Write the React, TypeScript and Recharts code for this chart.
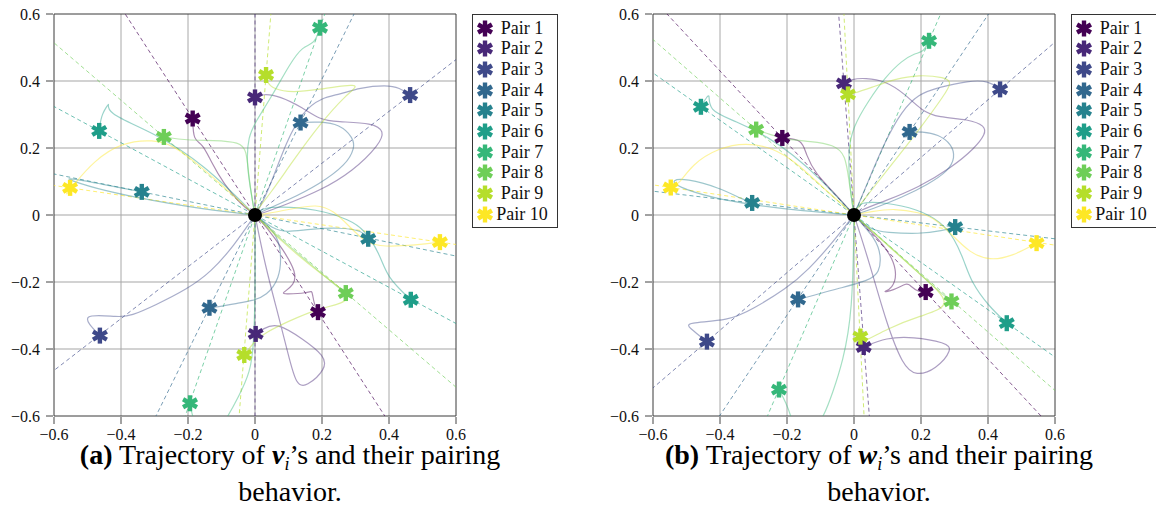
import React from 'react';
import { ComposedChart, Line, Scatter, XAxis, YAxis, CartesianGrid, ReferenceArea } from 'recharts';

type P = [number, number];

const pairNames = ['Pair 1', 'Pair 2', 'Pair 3', 'Pair 4', 'Pair 5', 'Pair 6', 'Pair 7', 'Pair 8', 'Pair 9', 'Pair 10'];
const pairColors = ['#440154', '#482878', '#3e4989', '#31688e', '#26828e', '#1f9e89', '#35b779', '#6ece58', '#b5de2b', '#fde725'];

const majorTicks = [-0.6, -0.4, -0.2, 0, 0.2, 0.4, 0.6];
const tickLabels = ['\u22120.6', '\u22120.4', '\u22120.2', '0', '0.2', '0.4', '0.6'];
const gridValues = [-0.4, -0.2, 0, 0.2, 0.4];
const minorTicks = Array.from({ length: 37 }, (_, k) => -0.6 + k / 30);

// final positions of v_i (panel a)
const vStarsA: P[] = [[-0.186, 0.288], [0, 0.351], [0.463, 0.358], [0.136, 0.276], [-0.338, 0.069], [-0.465, 0.251], [0.194, 0.559], [-0.272, 0.233], [0.033, 0.418], [-0.552, 0.081]];
const vStarsB: P[] = [[0.188, -0.29], [0.002, -0.355], [-0.463, -0.36], [-0.136, -0.277], [0.338, -0.071], [0.465, -0.253], [-0.194, -0.562], [0.271, -0.233], [-0.032, -0.418], [0.552, -0.081]];

const vTrajA: P[][] = [
  [[0, 0], [-0.043, 0.032], [-0.093, 0.092], [-0.132, 0.161], [-0.157, 0.214], [-0.184, 0.222], [-0.186, 0.288]],
  [[0, 0], [0.014, 0.002], [0.094, 0.032], [0.193, 0.072], [0.293, 0.131], [0.372, 0.211], [0.387, 0.25], [0.352, 0.275], [0.243, 0.278], [0.193, 0.285], [0.143, 0.32], [0.074, 0.355], [0.024, 0.362], [0, 0.351]],
  [[0, 0], [0.009, 0.012], [0.044, 0.082], [0.094, 0.221], [0.143, 0.31], [0.198, 0.35], [0.253, 0.36], [0.312, 0.38], [0.392, 0.388], [0.432, 0.38], [0.463, 0.358]],
  [[0, 0], [0.024, 0.012], [0.094, 0.042], [0.193, 0.092], [0.273, 0.151], [0.298, 0.201], [0.293, 0.231], [0.253, 0.271], [0.193, 0.279], [0.136, 0.276]],
  [[0, 0], [-0.152, 0.017], [-0.301, 0.042], [-0.451, 0.072], [-0.56, 0.106], [-0.56, 0.111], [-0.451, 0.091], [-0.338, 0.069]],
  [[0, 0], [-0.152, 0.151], [-0.301, 0.246], [-0.451, 0.306], [-0.429, 0.343], [-0.459, 0.302], [-0.465, 0.251]],
  [[0, 0], [-0.015, 0.084], [-0.025, 0.163], [-0.02, 0.232], [0, 0.276], [0.054, 0.36], [0.103, 0.45], [0.143, 0.505], [0.178, 0.51], [0.194, 0.559]],
  [[0, 0], [-0.005, 0.024], [-0.02, 0.124], [-0.025, 0.193], [-0.045, 0.218], [-0.124, 0.223], [-0.204, 0.223], [-0.272, 0.233]],
  [[0, 0], [0.004, 0.012], [0.044, 0.062], [0.113, 0.161], [0.193, 0.271], [0.273, 0.36], [0.312, 0.387], [0.273, 0.388], [0.193, 0.375], [0.113, 0.365], [0.054, 0.375], [0.034, 0.4], [0.033, 0.418]],
  [[0, 0], [-0.102, 0.092], [-0.182, 0.161], [-0.242, 0.206], [-0.301, 0.226], [-0.401, 0.216], [-0.481, 0.161], [-0.54, 0.092], [-0.57, 0.052], [-0.552, 0.081]],
];
const vTrajB: P[][] = [
  [[0, 0], [0.035, -0.036], [0.085, -0.105], [0.123, -0.17], [0.118, -0.21], [0.078, -0.234], [0.09, -0.236], [0.158, -0.233], [0.17, -0.225], [0.172, -0.24], [0.178, -0.27], [0.188, -0.29]],
  [[0, 0], [0.03, -0.15], [0.07, -0.3], [0.1, -0.42], [0.123, -0.509], [0.153, -0.514], [0.213, -0.459], [0.208, -0.42], [0.143, -0.37], [0.064, -0.32], [0.024, -0.34], [0.002, -0.355]],
  [[0, 0], [-0.063, -0.092], [-0.132, -0.171], [-0.202, -0.221], [-0.301, -0.271], [-0.371, -0.301], [-0.401, -0.306], [-0.53, -0.291], [-0.463, -0.36]],
  [[0, 0], [0.064, -0.052], [0.079, -0.111], [0.074, -0.191], [0.034, -0.241], [-0.006, -0.256], [-0.063, -0.265], [-0.112, -0.275], [-0.136, -0.277]],
  [[0, 0], [0.054, -0.042], [0.094, -0.052], [0.163, -0.042], [0.253, -0.037], [0.322, -0.047], [0.338, -0.071]],
  [[0, 0], [0.025, 0.029], [0.194, 0.018], [0.283, -0.016], [0.323, -0.04], [0.373, -0.115], [0.393, -0.185], [0.465, -0.253]],
  [[0, 0], [0.001, -0.2], [-0.003, -0.38], [-0.013, -0.468], [-0.052, -0.548], [-0.08, -0.6], [-0.12, -0.66], [-0.18, -0.64], [-0.194, -0.562]],
  [[0, 0], [0.08, -0.075], [0.17, -0.15], [0.24, -0.21], [0.271, -0.233]],
  [[0, 0], [0.08, -0.08], [0.2, -0.18], [0.312, -0.256], [0.193, -0.276], [0.094, -0.32], [0.034, -0.35], [0.004, -0.37], [-0.032, -0.418]],
  [[0, 0], [0.035, 0.004], [0.114, 0.019], [0.184, 0.032], [0.234, 0.014], [0.283, -0.036], [0.333, -0.085], [0.383, -0.095], [0.483, -0.09], [0.552, -0.081]],
];

// final positions of w_i (panel b)
const wStarsA: P[] = [[-0.214, 0.23], [-0.03, 0.393], [0.436, 0.375], [0.166, 0.248], [-0.304, 0.036], [-0.457, 0.323], [0.224, 0.52], [-0.292, 0.255], [-0.018, 0.36], [-0.547, 0.082]];
const wStarsB: P[] = [[0.214, -0.23], [0.029, -0.394], [-0.439, -0.378], [-0.167, -0.252], [0.302, -0.036], [0.456, -0.323], [-0.224, -0.521], [0.291, -0.258], [0.019, -0.363], [0.545, -0.084]];

const wTrajA: P[][] = [
  [[0, 0], [-0.064, 0.072], [-0.114, 0.122], [-0.144, 0.181], [-0.154, 0.226], [-0.214, 0.23]],
  [[0, 0], [0.013, 0.012], [0.093, 0.042], [0.192, 0.082], [0.292, 0.142], [0.362, 0.201], [0.392, 0.241], [0.392, 0.266], [0.342, 0.286], [0.252, 0.291], [0.202, 0.311], [0.153, 0.361], [0.093, 0.401], [0.033, 0.409], [-0.007, 0.406], [-0.03, 0.393]],
  [[0, 0], [0.043, 0.102], [0.093, 0.221], [0.143, 0.311], [0.192, 0.361], [0.252, 0.381], [0.342, 0.401], [0.402, 0.401], [0.436, 0.375]],
  [[0, 0], [0.053, 0.017], [0.143, 0.052], [0.222, 0.092], [0.282, 0.132], [0.302, 0.171], [0.292, 0.211], [0.252, 0.241], [0.202, 0.249], [0.166, 0.248]],
  [[0, 0], [-0.154, 0.012], [-0.3, 0.03], [-0.42, 0.05], [-0.53, 0.085], [-0.545, 0.105], [-0.502, 0.109], [-0.403, 0.082], [-0.333, 0.047], [-0.304, 0.036]],
  [[0, 0], [-0.104, 0.112], [-0.183, 0.181], [-0.253, 0.231], [-0.353, 0.281], [-0.438, 0.311], [-0.428, 0.371], [-0.45, 0.335], [-0.457, 0.323]],
  [[0, 0], [-0.013, 0.084], [-0.018, 0.193], [-0.003, 0.263], [0.043, 0.341], [0.093, 0.411], [0.143, 0.461], [0.182, 0.483], [0.207, 0.486], [0.224, 0.52]],
  [[0, 0], [-0.015, 0.1], [-0.025, 0.18], [-0.06, 0.21], [-0.13, 0.22], [-0.2, 0.225], [-0.25, 0.24], [-0.292, 0.255]],
  [[0, 0], [0.003, 0.012], [0.043, 0.062], [0.113, 0.152], [0.192, 0.251], [0.272, 0.361], [0.292, 0.396], [0.272, 0.411], [0.192, 0.419], [0.123, 0.406], [0.053, 0.381], [-0.007, 0.361], [-0.018, 0.36]],
  [[0, 0], [-0.104, 0.092], [-0.173, 0.157], [-0.243, 0.201], [-0.323, 0.216], [-0.403, 0.201], [-0.483, 0.152], [-0.522, 0.092], [-0.547, 0.082]],
];
const wTrajB: P[][] = [
  [[0, 0], [0.096, -0.092], [0.131, -0.166], [0.116, -0.221], [0.081, -0.231], [0.116, -0.226], [0.161, -0.201], [0.166, -0.211], [0.195, -0.231], [0.214, -0.23]],
  [[0, 0], [0.046, -0.142], [0.096, -0.321], [0.146, -0.451], [0.185, -0.481], [0.245, -0.461], [0.295, -0.401], [0.275, -0.381], [0.175, -0.363], [0.096, -0.366], [0.029, -0.394]],
  [[0, 0], [-0.064, -0.082], [-0.134, -0.162], [-0.203, -0.221], [-0.303, -0.281], [-0.373, -0.316], [-0.502, -0.321], [-0.493, -0.336], [-0.439, -0.378]],
  [[0, 0], [0.066, -0.072], [0.081, -0.122], [0.076, -0.171], [0.046, -0.196], [-0.054, -0.221], [-0.124, -0.241], [-0.167, -0.252]],
  [[0, 0], [0.05, -0.045], [0.096, -0.052], [0.195, -0.057], [0.265, -0.047], [0.302, -0.036]],
  [[0, 0], [0.01, 0.04], [0.09, 0.038], [0.19, 0.018], [0.26, -0.02], [0.3, -0.07], [0.33, -0.14], [0.35, -0.2], [0.4, -0.27], [0.456, -0.323]],
  [[0, 0], [-0.004, -0.291], [-0.034, -0.441], [-0.064, -0.531], [-0.089, -0.6], [-0.13, -0.66], [-0.18, -0.64], [-0.188, -0.6], [-0.203, -0.56], [-0.224, -0.521]],
  [[0, 0], [0.08, -0.07], [0.18, -0.16], [0.25, -0.225], [0.291, -0.258]],
  [[0, 0], [0.1, -0.09], [0.2, -0.18], [0.305, -0.271], [0.195, -0.301], [0.096, -0.341], [0.036, -0.376], [-0.004, -0.386], [0.019, -0.363]],
  [[0, 0], [0.05, 0.01], [0.12, 0.02], [0.195, 0.008], [0.245, -0.012], [0.295, -0.062], [0.345, -0.112], [0.405, -0.137], [0.475, -0.122], [0.545, -0.084]],
];

const toPts = (a: P[]) => a.map(([x, y]) => ({ x, y }));
// dashed line through the origin along a pair's direction, long enough to be clipped by the box
const throughOrigin = ([x, y]: P) => [{ x: -6 * x, y: -6 * y }, { x: 6 * x, y: 6 * y }];
const fmt = (v: number) => tickLabels[majorTicks.findIndex((t) => Math.abs(t - v) < 1e-6)] ?? '';

const serif = 'Liberation Serif';

const XTick = (p: any) => (
  <text x={p.x} y={p.y} dy={10.5} textAnchor="middle" fontSize={16} fill="#111" fontFamily={serif}>{fmt(p.payload.value)}</text>
);
const YTick = (p: any) => (
  <text x={p.x} y={p.y} dy={5.5} textAnchor="end" fontSize={16} fill="#111" fontFamily={serif}>{fmt(p.payload.value)}</text>
);

function Asterisk({ cx, cy, color, r = 8, w = 4.4 }: { cx: number; cy: number; color: string; r?: number; w?: number }) {
  return (
    <g>
      {[0, 60, 120].map((a) => (
        <line key={a} x1={cx} y1={cy - r} x2={cx} y2={cy + r} stroke={color} strokeWidth={w} transform={`rotate(${a} ${cx} ${cy})`} />
      ))}
    </g>
  );
}

function Panel({ starsA, starsB, trajA, trajB }: { starsA: P[]; starsB: P[]; trajA: P[][]; trajB: P[][] }) {
  return (
    <ComposedChart width={470} height={450} margin={{ top: 14, right: 14, left: 0, bottom: 9 }}>
      {/* minor tick axes (id 0, also used by the series) */}
      <XAxis type="number" dataKey="x" domain={[-0.6, 0.6]} allowDataOverflow ticks={minorTicks} tick={false} tickSize={4} height={1} axisLine={false} tickLine={{ stroke: '#444' }} />
      <YAxis type="number" dataKey="y" domain={[-0.6, 0.6]} allowDataOverflow ticks={minorTicks} tick={false} tickSize={4} width={1} axisLine={false} tickLine={{ stroke: '#444' }} />
      <XAxis xAxisId="main" type="number" dataKey="x" domain={[-0.6, 0.6]} allowDataOverflow ticks={majorTicks} tickSize={7} tickMargin={5} height={24} axisLine={false} tickLine={{ stroke: '#444' }} tick={XTick} />
      <YAxis yAxisId="main" type="number" dataKey="y" domain={[-0.6, 0.6]} allowDataOverflow ticks={majorTicks} tickSize={7} tickMargin={6} width={53} axisLine={false} tickLine={{ stroke: '#444' }} tick={YTick} />
      <CartesianGrid xAxisId="main" yAxisId="main" vertical={false} horizontalValues={gridValues} stroke="#d2d2d2" strokeWidth={2} />
      <CartesianGrid xAxisId="main" yAxisId="main" horizontal={false} verticalValues={gridValues} stroke="#a8a8a8" strokeWidth={1} />
      {starsA.map((s, i) => (
        <Line key={`d${i}`} data={throughOrigin(s)} dataKey="y" type="linear" stroke={pairColors[i]} strokeOpacity={0.65} strokeWidth={1} strokeDasharray="4 3" dot={false} isAnimationActive={false} />
      ))}
      {trajA.map((t, i) => (
        <Line key={`a${i}`} data={toPts(t)} dataKey="y" type="basis" stroke={pairColors[i]} strokeOpacity={0.45} strokeWidth={1.2} dot={false} isAnimationActive={false} />
      ))}
      {trajB.map((t, i) => (
        <Line key={`b${i}`} data={toPts(t)} dataKey="y" type="basis" stroke={pairColors[i]} strokeOpacity={0.45} strokeWidth={1.2} dot={false} isAnimationActive={false} />
      ))}
      <ReferenceArea x1={-0.6} x2={0.6} y1={-0.6} y2={0.6} fill="none" stroke="#3a3a3a" strokeWidth={1} />
      <Scatter data={[{ x: 0, y: 0 }]} isAnimationActive={false} shape={(p: any) => <circle cx={p.cx} cy={p.cy} r={7} fill="#000" />} />
      {starsA.map((s, i) => (
        <Scatter key={`s${i}`} data={[toPts([s])[0], toPts([starsB[i]])[0]]} isAnimationActive={false} shape={(p: any) => <Asterisk cx={p.cx} cy={p.cy} color={pairColors[i]} />} />
      ))}
    </ComposedChart>
  );
}

function LegendBox({ left }: { left: number }) {
  return (
    <div style={{ position: 'absolute', left, top: 14, width: 86, height: 214, border: '1px solid #333', boxSizing: 'border-box', background: '#fff' }}>
      {pairNames.map((n, i) => (
        <div key={n} style={{ position: 'absolute', left: 0, top: 2.5 + i * 20.7, width: 84, height: 21 }}>
          <svg width={24} height={21} style={{ position: 'absolute', left: 0, top: 0 }}>
            <Asterisk cx={12} cy={10.5} color={pairColors[i]} />
          </svg>
          <div style={{ position: 'absolute', left: 20, width: 58, top: 0, lineHeight: '21px', textAlign: 'center', fontFamily: serif, fontSize: 18, color: '#111', whiteSpace: 'nowrap' }}>{n}</div>
        </div>
      ))}
    </div>
  );
}

const captionStyle: React.CSSProperties = {
  position: 'absolute', width: 520, textAlign: 'center', fontFamily: serif, fontSize: 28, lineHeight: '22px', color: '#000', whiteSpace: 'nowrap',
};

export default function App() {
  return (
    <div style={{ position: 'absolute', left: 0, top: 0, width: 1156, height: 522, background: '#fff', overflow: 'hidden' }}>
      <div style={{ position: 'absolute', left: 0, top: 0 }}>
        <Panel starsA={vStarsA} starsB={vStarsB} trajA={vTrajA} trajB={vTrajB} />
      </div>
      <div style={{ position: 'absolute', left: 599, top: 0 }}>
        <Panel starsA={wStarsA} starsB={wStarsB} trajA={wTrajA} trajB={wTrajB} />
      </div>
      <LegendBox left={472} />
      <LegendBox left={1071} />
      <div style={{ ...captionStyle, left: 30, top: 444 }}>
        <b>(a)</b> Trajectory of <b><i>v</i></b><i style={{ fontSize: 18, position: 'relative', top: 6 }}>i</i>’s and their pairing
      </div>
      <div style={{ ...captionStyle, left: 30, top: 481 }}>behavior.</div>
      <div style={{ ...captionStyle, left: 619, top: 444 }}>
        <b>(b)</b> Trajectory of <b><i>w</i></b><i style={{ fontSize: 18, position: 'relative', top: 6 }}>i</i>’s and their pairing
      </div>
      <div style={{ ...captionStyle, left: 619, top: 481 }}>behavior.</div>
    </div>
  );
}
